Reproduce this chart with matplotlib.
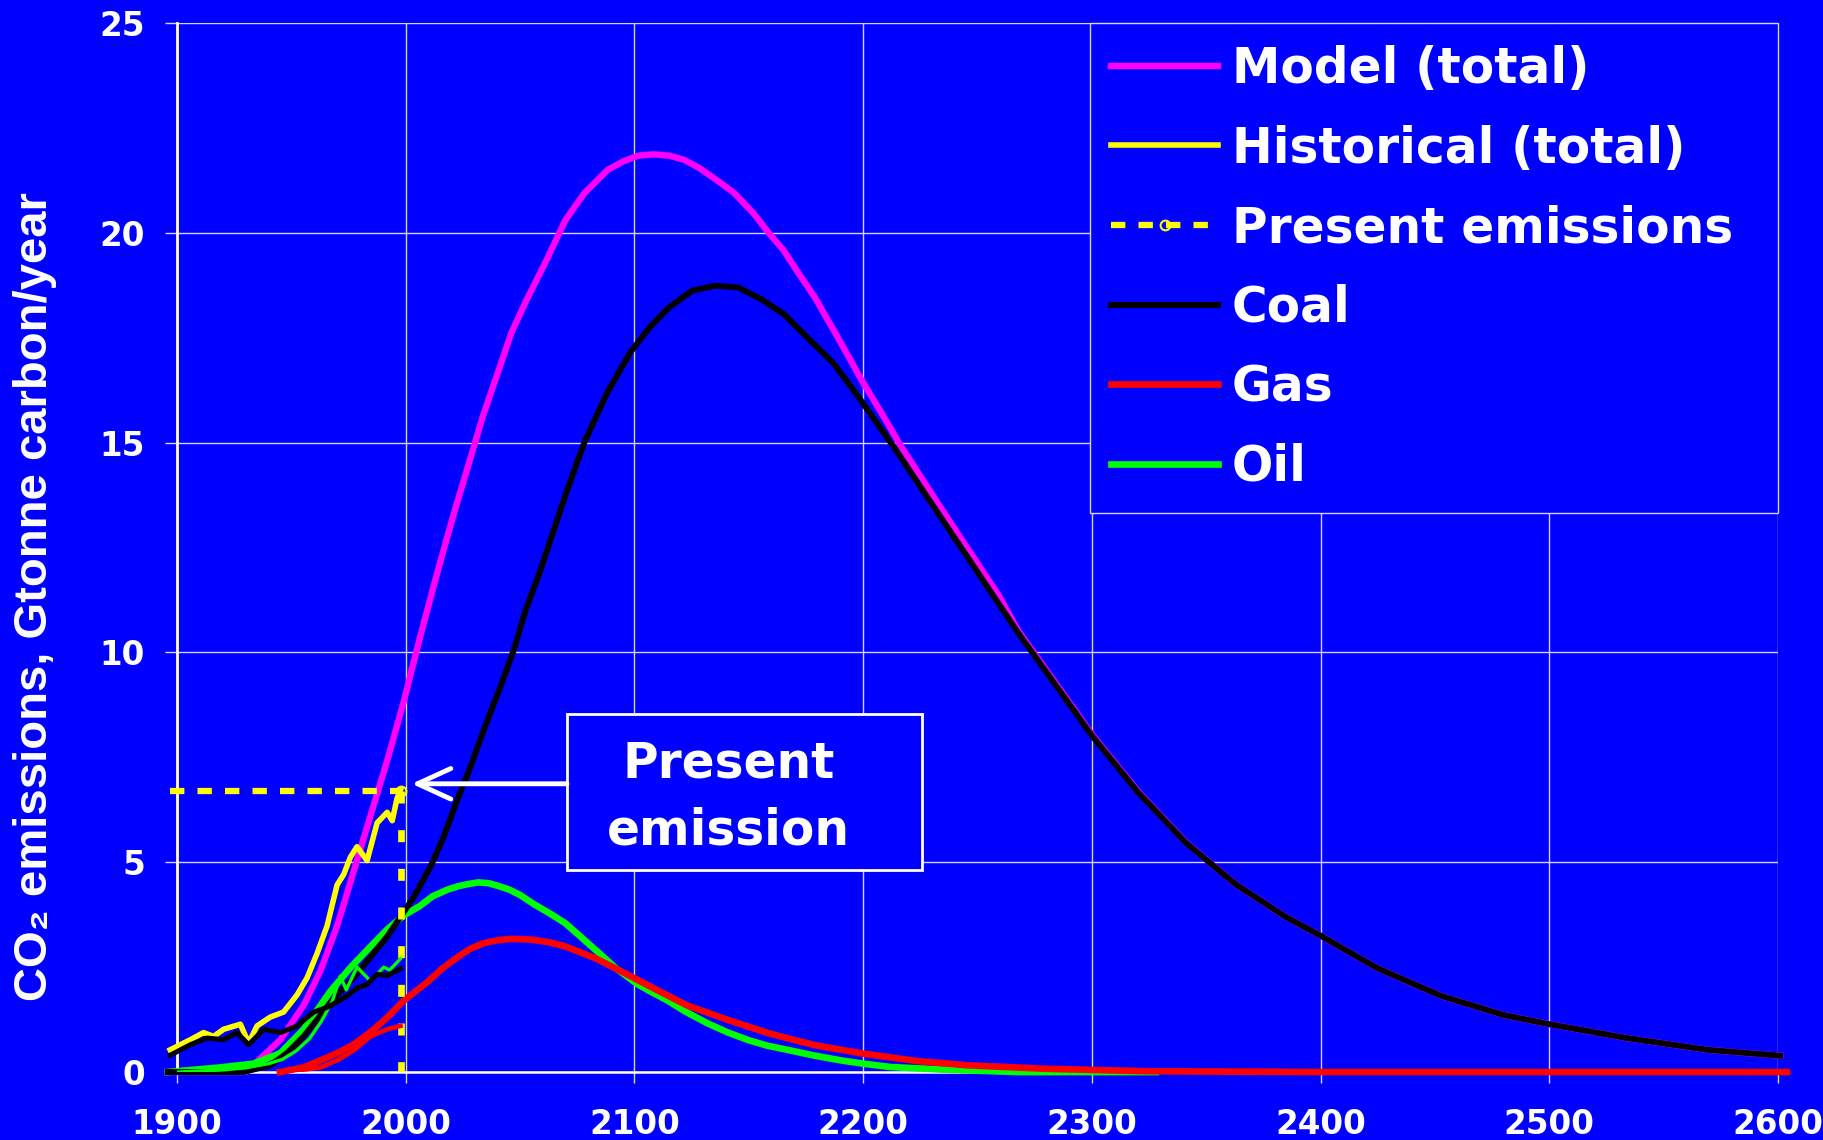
import matplotlib
matplotlib.use('Agg')
import matplotlib.pyplot as plt
from matplotlib.patches import Rectangle

# Model (total)
model_years = [1896, 1930, 1936.4, 1945.2, 1955.4, 1962.7, 1970, 1977.3, 1984.6, 1991.9,
               1999.1, 2005, 2012.3, 2016.6, 2021, 2025.4, 2033.7, 2039.6, 2046.3, 2053,
               2061.4, 2069.8, 2078.2, 2088.3, 2095, 2101.7, 2108.4, 2115.1, 2121.8, 2128.5,
               2136.9, 2143.6, 2152, 2158.7, 2165.4, 2172.1, 2178.9, 2188.9, 2199, 2209,
               2215.8, 2232.6, 2246, 2259.4, 2268, 2287, 2300, 2320, 2341, 2363, 2385, 2400,
               2425, 2453, 2480, 2500, 2534, 2569, 2601]
model_total = [0, 0, 0.32, 0.77, 1.59, 2.41, 3.48, 4.79, 6.11, 7.42,
               8.82, 10.1, 11.6, 12.45, 13.3, 14.1, 15.62, 16.56, 17.63, 18.42,
               19.33, 20.3, 20.95, 21.5, 21.7, 21.84, 21.87, 21.84, 21.74, 21.54,
               21.22, 20.95, 20.47, 20.0, 19.57, 19.01, 18.46, 17.51, 16.52, 15.62,
               14.98, 13.56, 12.45, 11.35, 10.5, 9.05, 8.05, 6.7, 5.48, 4.47, 3.69, 3.25,
               2.47, 1.81, 1.36, 1.14, 0.81, 0.53, 0.39]

# Coal (model)
coal_years = [1896, 1929, 1940.8, 1948.1, 1955.4, 1962.7, 1970, 1977.3, 1984.6, 1991.9,
              1999.1, 2003.5, 2010.8, 2016.6, 2022.5, 2028.3, 2034.1, 2041.4, 2047.2,
              2052.4, 2058.9, 2064.7, 2070.6, 2078.2, 2088.3, 2098.3, 2106.7, 2115.1,
              2125.2, 2135.2, 2145.3, 2155.4, 2165.4, 2175.5, 2187.2, 2199, 2214, 2233,
              2249, 2268, 2287, 2300, 2320, 2341, 2363, 2385, 2400, 2425, 2453, 2480,
              2500, 2534, 2569, 2601]
coal = [0, 0, 0.16, 0.45, 0.85, 1.35, 1.84, 2.25, 2.74, 3.23,
        3.81, 4.17, 4.89, 5.6, 6.48, 7.27, 8.15, 9.18, 10.05,
        11.0, 11.96, 12.91, 13.87, 15.02, 16.21, 17.16, 17.75, 18.22,
        18.62, 18.74, 18.7, 18.42, 18.06, 17.51, 16.88, 16.01, 14.85, 13.3,
        12.0, 10.45, 9.01, 8.02, 6.68, 5.47, 4.47, 3.69, 3.25, 2.47, 1.81, 1.36,
        1.14, 0.81, 0.53, 0.39]

# Gas (model)
gas_years = [1945, 1955.4, 1962.7, 1970, 1977.3, 1984.6, 1991.9, 1999.1, 2009.6, 2016,
             2023, 2028, 2034, 2040, 2045, 2050, 2056, 2063, 2070, 2083, 2096, 2110,
             2123, 2141, 2159, 2179, 2200, 2224, 2246, 2279, 2324, 2400, 2604]
gas = [0, 0.11, 0.28, 0.45, 0.66, 0.95, 1.3, 1.7, 2.15, 2.47,
       2.75, 2.93, 3.07, 3.14, 3.17, 3.17, 3.15, 3.09, 2.99, 2.71, 2.35, 1.95,
       1.59, 1.24, 0.92, 0.64, 0.44, 0.26, 0.16, 0.08, 0.02, 0.0, 0.0]

# Oil (model)
oil_years = [1896, 1918.9, 1933.5, 1945.2, 1955.4, 1967, 1976, 1984.6, 1991.9, 1999.1,
             2006, 2011.8, 2018.4, 2023, 2027.3, 2031.8, 2036.3, 2040.8, 2045.2, 2050,
             2056.4, 2063, 2069.7, 2076, 2083, 2092, 2100.9, 2107, 2114.3, 2122, 2132,
             2141, 2149.9, 2158, 2167.7, 2178, 2190, 2200, 2212, 2234.5, 2268, 2328]
oil = [0, 0.11, 0.2, 0.45, 1.02, 1.92, 2.5, 2.99, 3.4, 3.73,
       3.95, 4.19, 4.35, 4.43, 4.48, 4.52, 4.5, 4.43, 4.35, 4.22,
       3.99, 3.78, 3.55, 3.25, 2.91, 2.47, 2.11, 1.92, 1.71, 1.45, 1.16,
       0.94, 0.76, 0.63, 0.52, 0.4, 0.28, 0.2, 0.12, 0.06, 0.0, 0.0]

# Historical (total)
hist_years = [1897, 1905.8, 1911.6, 1916, 1920.4, 1927.7, 1931.3, 1935, 1940.8, 1946.6,
              1952.5, 1956.9, 1961.2, 1965.6, 1970, 1972.9, 1975.8, 1978.7, 1983.1,
              1987.5, 1991.9, 1994.1, 1996.2, 1997.7]
hist_total = [0.53, 0.77, 0.94, 0.85, 1.02, 1.14, 0.69, 1.1, 1.31, 1.43,
              1.84, 2.25, 2.82, 3.48, 4.46, 4.71, 5.12, 5.37, 5.04,
              5.94, 6.19, 5.99, 6.52, 6.72]

hist_coal_years = [1897, 1905.8, 1913.1, 1920.4, 1926.2, 1931.3, 1937.9, 1945.2, 1952.5,
                   1959.8, 1966, 1972.9, 1978.7, 1983.1, 1987.5, 1991.9, 1997.7]
hist_coal = [0.40, 0.65, 0.81, 0.77, 0.94, 0.65, 1.02, 0.94, 1.1,
             1.43, 1.55, 1.76, 2.0, 2.09, 2.33, 2.3, 2.46]

hist_oil_years = [1900, 1920, 1930, 1940, 1946, 1952, 1958, 1963, 1968, 1971.4, 1974,
                  1978.7, 1984.6, 1990.4, 1993, 1997.7]
hist_oil = [0.0, 0.05, 0.1, 0.2, 0.3, 0.5, 0.8, 1.2, 1.7, 2.29, 1.96,
            2.5, 2.17, 2.5, 2.43, 2.7]

hist_gas_years = [1950, 1962.7, 1970, 1977.3, 1984.6, 1991.9, 1997.7]
hist_gas = [0.02, 0.11, 0.28, 0.52, 0.85, 1.02, 1.1]

# Present emissions marker lines
present_h_years = [1897, 1998]
present_h_vals = [6.7, 6.7]
present_v_years = [1998, 1998]
present_v_vals = [6.7, 0]

BLUE = '#0000FF'
GRID = '#d4d4ff'

fig = plt.figure(figsize=(18.23, 11.4), dpi=100, facecolor=BLUE)
ax = fig.add_axes([0.0971, 0.0596, 0.8782, 0.9202], facecolor=BLUE)

ax.plot(model_years, model_total, color='#FF00FF', lw=4.6, label='Model (total)', clip_on=False, zorder=3)
ax.plot(hist_years, hist_total, color='#FFFF00', lw=4.0, label='Historical (total)', clip_on=False, zorder=4)
ax.plot(present_h_years, present_h_vals, color='#FFFF00', lw=4.5, dashes=(2.3, 2.1),
        marker='o', markevery=[1], markersize=7, markerfacecolor='none', markeredgewidth=1.5,
        label='Present emissions', clip_on=False, zorder=4)
ax.plot(present_v_years, present_v_vals, color='#FFFF00', lw=4.8, dashes=(1.8, 4.0), zorder=4)
ax.plot(hist_oil_years, hist_oil, color='#00FF00', lw=2.4, zorder=4)
ax.plot(hist_gas_years, hist_gas, color='#FF0000', lw=3.4, zorder=4)
ax.plot(hist_coal_years, hist_coal, color='black', lw=3.6, clip_on=False, zorder=4)
ax.plot(oil_years, oil, color='#00FF00', lw=4.8, label='Oil', clip_on=False, zorder=3)
ax.plot(gas_years, gas, color='#FF0000', lw=4.8, label='Gas', clip_on=False, zorder=3)
ax.plot(coal_years, coal, color='black', lw=4.3, label='Coal', clip_on=False, zorder=3)

ax.set_xlim(1900, 2600)
ax.set_ylim(0, 25)
ax.set_xticks(range(1900, 2601, 100))
ax.set_yticks(range(0, 26, 5))
ax.grid(True, color=GRID, lw=1.0)
ax.set_axisbelow(True)

for s in ['top', 'right']:
    ax.spines[s].set_visible(False)
ax.spines['left'].set_color('white')
ax.spines['left'].set_linewidth(2.0)
ax.spines['bottom'].set_color('white')
ax.spines['bottom'].set_linewidth(1.8)

ax.tick_params(axis='x', colors=GRID, length=8, width=1, pad=18, labelcolor='white')
ax.tick_params(axis='y', colors=GRID, length=9, width=1, pad=14, labelcolor='white')
for lab in ax.get_xticklabels() + ax.get_yticklabels():
    lab.set_fontsize(23.5)
    lab.set_fontweight('bold')
    lab.set_family('DejaVu Sans')

fig.text(0.0192, 0.477, 'CO\u2082 emissions, Gtonne carbon/year', rotation=90,
         ha='center', va='center', color='white', fontsize=34, fontweight='bold',
         family=['Liberation Sans', 'DejaVu Sans'])

# legend
handles, labels = ax.get_legend_handles_labels()
order = ['Model (total)', 'Historical (total)', 'Present emissions', 'Coal', 'Gas', 'Oil']
hmap = dict(zip(labels, handles))
leg = ax.legend([hmap[k] for k in order], order, loc='upper left',
                bbox_to_anchor=(0.570, 0.0, 0.430, 1.0), mode='expand', borderaxespad=0,
                prop={'family': 'DejaVu Sans', 'weight': 'bold', 'size': 35},
                handlelength=2.2, handletextpad=0.28, borderpad=0.45, labelspacing=0.65,
                fancybox=False, framealpha=1, facecolor=BLUE, edgecolor=GRID)
leg.get_frame().set_linewidth(1.0)
for t in leg.get_texts():
    t.set_color('white')

# annotation box
BOX_X, BOX_Y, BOX_W, BOX_H = 2070.5, 4.82, 155.3, 3.72
ax.add_patch(Rectangle((BOX_X, BOX_Y), BOX_W, BOX_H, facecolor=BLUE, edgecolor='white',
                       lw=2.0, zorder=6))
ax.text(2141, 6.55, 'Present\nemission', ha='center', va='center', color='white',
        fontsize=35, fontweight='bold', linespacing=1.5, zorder=7)
ax.annotate('', xy=(2002.6, 6.87), xytext=(BOX_X, 6.87),
            arrowprops=dict(arrowstyle='->,head_length=1.2,head_width=0.55', color='white',
                            lw=3.5, mutation_scale=20, shrinkA=0, shrinkB=0), zorder=6)

fig.savefig('out.png', dpi=100, facecolor=BLUE)
